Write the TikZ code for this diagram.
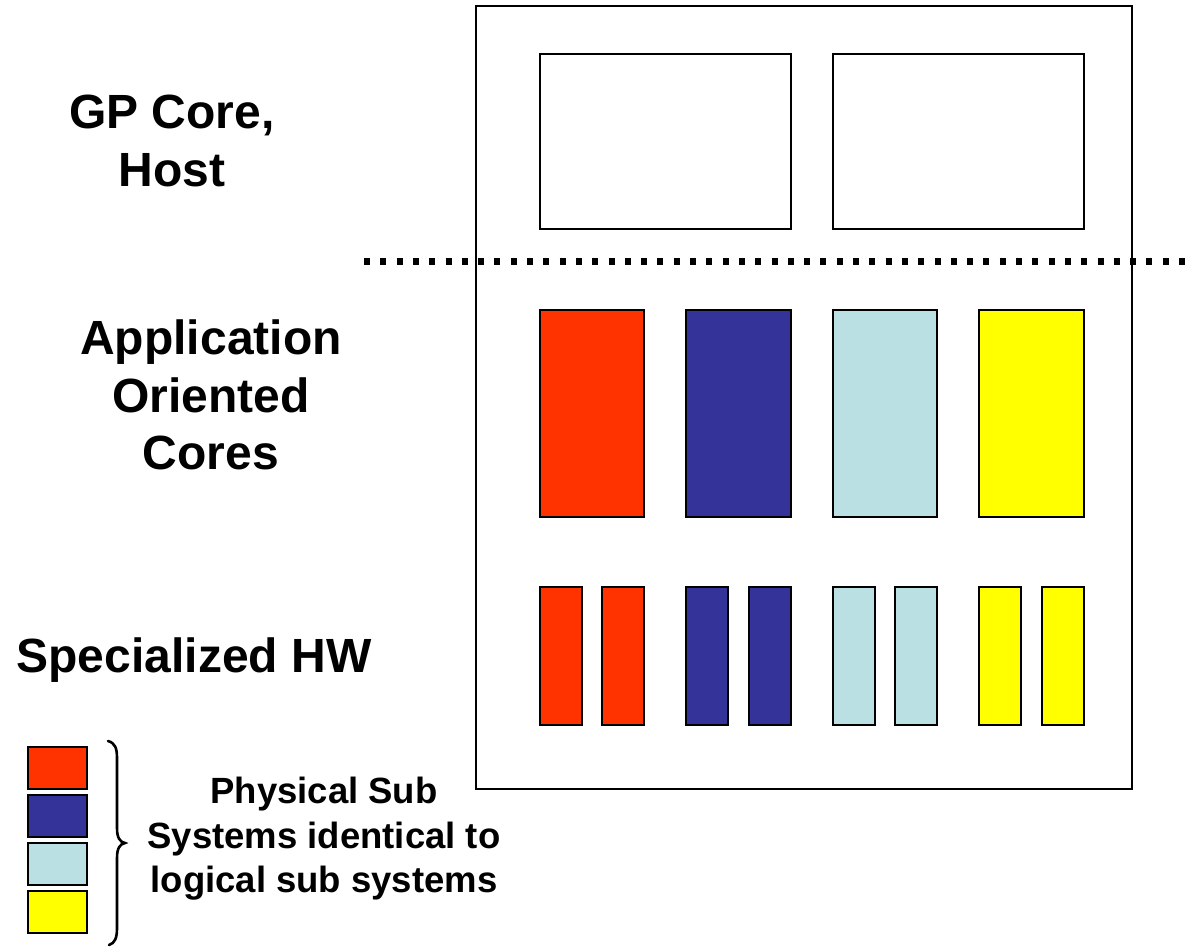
\documentclass[tikz,border=0pt]{standalone}
\usepackage{fontspec}
\setmainfont{Liberation Sans}
\definecolor{subred}{HTML}{FF3300}
\definecolor{subblue}{HTML}{333399}
\definecolor{subcyan}{HTML}{BBE0E3}
\definecolor{subyellow}{HTML}{FFFF00}
\tikzset{
  frame/.style={draw=black, line width=2pt},
  unit/.style={draw=black, line width=2pt},
  label48/.style={font=\bfseries\fontsize{48}{57.5}\selectfont, align=center, inner sep=0pt},
  label36/.style={font=\bfseries\fontsize{36.5}{44.5}\selectfont, align=center, inner sep=0pt},
  divider/.style={line width=7pt, dash pattern=on 6pt off 10.3pt},
}
\begin{document}
\begin{tikzpicture}[x=1pt,y=-1pt]
  \useasboundingbox (0,0) rectangle (1190,947);

  % chip outline
  \draw[frame] (476,6) rectangle (1132,789);

  % general purpose cores
  \draw[unit] (540,54) rectangle (791,229);
  \draw[unit] (833,54) rectangle (1084,229);

  % host / accelerator boundary
  \draw[divider] (364,261) -- (1190,261);

  % application oriented cores
  \draw[unit, fill=subred]    (540,310) rectangle (644,517);
  \draw[unit, fill=subblue]   (686,310) rectangle (791,517);
  \draw[unit, fill=subcyan]   (833,310) rectangle (937,517);
  \draw[unit, fill=subyellow] (979,310) rectangle (1084,517);

  % specialized hardware blocks
  \draw[unit, fill=subred]    (540,587) rectangle (582,725);
  \draw[unit, fill=subred]    (602,587) rectangle (644,725);
  \draw[unit, fill=subblue]   (686,587) rectangle (728,725);
  \draw[unit, fill=subblue]   (749,587) rectangle (791,725);
  \draw[unit, fill=subcyan]   (833,587) rectangle (875,725);
  \draw[unit, fill=subcyan]   (895,587) rectangle (937,725);
  \draw[unit, fill=subyellow] (979,587) rectangle (1021,725);
  \draw[unit, fill=subyellow] (1042,587) rectangle (1084,725);

  % row labels
  \node[label48] (gp)   at (172,141) {GP Core,\\Host};
  \node[label48] (aoc)  at (211,395) {Application\\Oriented\\Cores};
  \node[label48] (shw)  at (194,660) {Specialized HW};

  % legend
  \draw[unit, fill=subred]    (28,747) rectangle (87,789);
  \draw[unit, fill=subblue]   (28,795) rectangle (87,837);
  \draw[unit, fill=subcyan]   (28,843) rectangle (87,885);
  \draw[unit, fill=subyellow] (28,891) rectangle (87,933);

  \draw[line width=2.6pt, line cap=round]
    (108,741) .. controls (115,743) and (117,748) .. (117,758)
    -- (117,828) .. controls (117,838) and (120,842) .. (125,843)
    .. controls (120,844) and (117,848) .. (117,858)
    -- (117,928) .. controls (117,938) and (115,943) .. (109,945);

  \node[label36] (legend) at (324,839) {Physical Sub\\Systems identical to\\logical sub systems};
\end{tikzpicture}
\end{document}
